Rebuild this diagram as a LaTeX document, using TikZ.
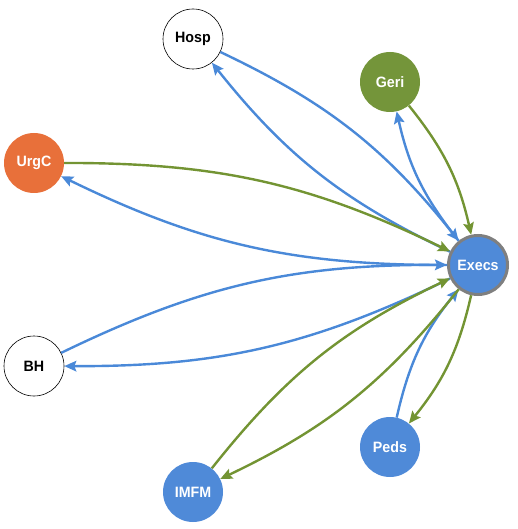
\documentclass[tikz,border=0pt]{standalone}
\usepackage{fontspec}
\setmainfont{Liberation Sans}[FakeStretch=0.95]
\usetikzlibrary{arrows.meta}
\definecolor{nblue}{HTML}{4F8AD8}
\definecolor{ngreen}{HTML}{74953A}
\definecolor{norange}{HTML}{E8703A}
\definecolor{eblue}{HTML}{4A89D8}
\definecolor{egreen}{HTML}{739433}
\definecolor{bgray}{HTML}{7F7F7F}
\begin{document}
\begin{tikzpicture}[x=1pt,y=-1pt,
  nd/.style={circle, minimum size=60pt, inner sep=0pt, font=\fontsize{15}{18}\selectfont\bfseries},
  wnode/.style={nd, draw=black, line width=0.6pt, fill=white, text=black},
  cnode/.style={nd, text=white},
  ln/.style={line width=2.4pt, -{Stealth[length=12pt,width=10.5pt,inset=2pt]}, bend left=13},
  bl/.style={ln, draw=eblue},
  gr/.style={ln, draw=egreen}]
\useasboundingbox (0,0) rectangle (518,529);
\node[wnode] (hosp) at (193,39) {Hosp};
\node[cnode, fill=ngreen] (geri) at (390,82) {Geri};
\node[cnode, fill=norange] (urgc) at (34,163) {UrgC};
\node[cnode, fill=nblue, draw=bgray, line width=3pt, minimum size=59pt] (execs) at (478,265) {Execs};
\node[wnode] (bh) at (34,366) {BH};
\node[cnode, fill=nblue] (peds) at (390,447) {Peds};
\node[cnode, fill=nblue] (imfm) at (193,492) {IMFM};
\draw[bl] (hosp) to (execs);
\draw[bl] (execs) to (hosp);
\draw[bl] (execs) to (geri);
\draw[gr] (geri) to (execs);
\draw[gr] (urgc) to (execs);
\draw[bl] (execs) to (urgc);
\draw[bl] (bh) to (execs);
\draw[bl] (execs) to (bh);
\draw[bl] (peds) to (execs);
\draw[gr] (execs) to (peds);
\draw[gr] (imfm) to (execs);
\draw[gr] (execs) to (imfm);
\end{tikzpicture}
\end{document}
